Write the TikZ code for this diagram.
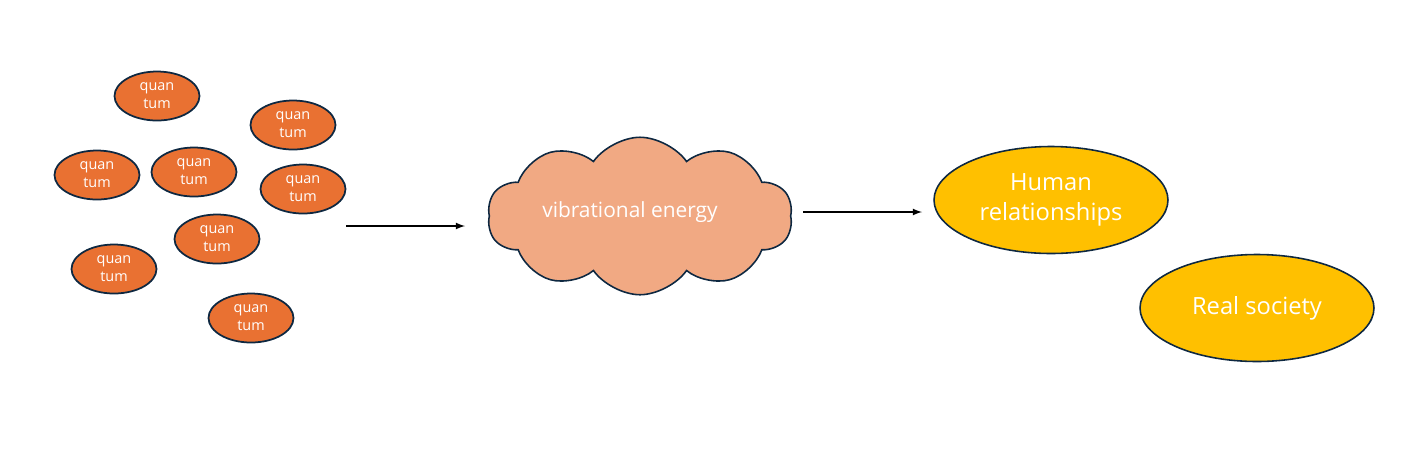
\documentclass[tikz,border=0pt]{standalone}
\usepackage{fontspec}
\setmainfont{Open Sans}
\usepackage{xcolor}
\usepackage{tikz}
\usetikzlibrary{shapes.geometric, shapes.symbols, positioning}

\definecolor{quantumorange}{HTML}{E97132}
\definecolor{cloudpeach}{HTML}{F1A983}
\definecolor{socialgold}{HTML}{FFC000}
\definecolor{edgenavy}{HTML}{0E2841}

\tikzset{
    quantum/.style={ellipse, draw=edgenavy, line width=1pt, fill=quantumorange,
        minimum width=1.7cm, minimum height=0.98cm, inner sep=0pt,
        text=white, align=center, font=\fontsize{8.2}{10.2}\selectfont},
    energy/.style={cloud, cloud puffs=10, cloud puff arc=110, aspect=1.9,
        draw=edgenavy, line width=0.9pt, fill=cloudpeach,
        minimum width=6.1cm, minimum height=3.15cm, inner sep=0pt},
    society/.style={ellipse, draw=edgenavy, line width=0.9pt, fill=socialgold,
        minimum width=4.68cm, minimum height=2.14cm, inner sep=0pt,
        text=white, align=center, font=\fontsize{13.5}{17.5}\selectfont},
    flow/.style={->, line width=0.8pt}
}

\begin{document}
\begin{tikzpicture}[>=latex, x=0.02cm, y=-0.02cm]
    % Khung hình
    \useasboundingbox (0,0) rectangle (1404,468);

    % Các hạt lượng tử
    \node[quantum] (q1) at (157,96)  {quan\\tum};
    \node[quantum] (q2) at (293,125) {quan\\tum};
    \node[quantum] (q3) at (97,175)  {quan\\tum};
    \node[quantum] (q4) at (194,172) {quan\\tum};
    \node[quantum] (q5) at (303,189) {quan\\tum};
    \node[quantum] (q6) at (217,239) {quan\\tum};
    \node[quantum] (q7) at (114,269) {quan\\tum};
    \node[quantum] (q8) at (251,318) {quan\\tum};

    % Đám mây năng lượng
    \node[energy] (energy) at (640,216) {};
    \node[text=white, font=\fontsize{11.9}{14}\selectfont] (energytext) at (630,212)
        {vibrational energy};

    % Các hình elip
    \node[society] (human) at (1051,200) {Human\\relationships};
    \node[society] (real) at (1257,308) {Real society};

    % Các mũi tên
    \coordinate (a1) at (346,226);
    \coordinate (b1) at (465,226);
    \coordinate (a2) at (803,212);
    \coordinate (b2) at (922,212);
    \draw[flow] (a1) -- (b1);
    \draw[flow] (a2) -- (b2);

\end{tikzpicture}
\end{document}
